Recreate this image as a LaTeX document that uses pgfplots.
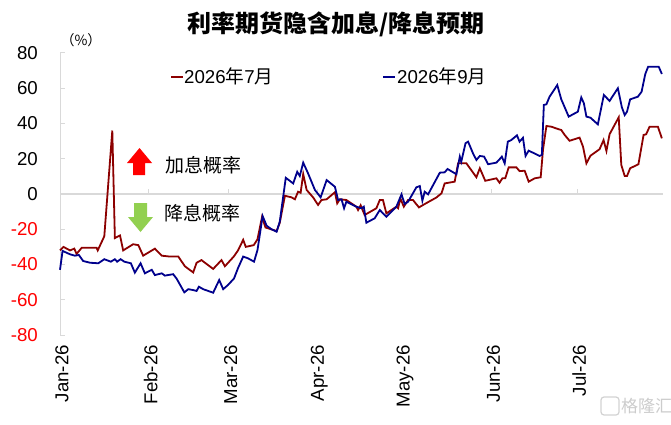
\documentclass[border=0pt]{standalone}
\usepackage{fontspec}
\setmainfont{Liberation Sans}
\newfontfamily\cjk{Noto Sans CJK SC}
\usepackage{pgfplots}
\pgfplotsset{compat=1.18}
\definecolor{sjul}{RGB}{140,0,0}
\definecolor{ssep}{RGB}{0,0,140}
\definecolor{axgray}{RGB}{217,217,217}
\definecolor{arrgreen}{RGB}{146,208,80}
\newcommand{\fs}{\fontsize{18.67bp}{22bp}\selectfont}
\begin{document}
\begin{tikzpicture}[x=1bp,y=1bp]
\useasboundingbox (0,0) rectangle (671,424);
\begin{axis}[at={(60bp,89bp)}, anchor=south west, width=603bp, height=282bp, scale only axis,
  xmin=0, xmax=211, ymin=-80, ymax=80, axis lines*=left,
  x axis line style={draw=none}, y axis line style={draw=axgray, line width=1bp},
  xtick={0,31,59,90,120,151,181},
  xticklabels={Jan-26,Feb-26,Mar-26,Apr-26,May-26,Jun-26,Jul-26},
  xtick style={draw=none},
  ytick={-80,-60,-40,-20,0,20,40,60,80},
  yticklabels={\textcolor{red}{-80},\textcolor{red}{-60},\textcolor{red}{-40},\textcolor{red}{-20},0,20,40,60,80},
  ytick style={draw=axgray, line width=1bp}, tick align=inside, major tick length=5bp,
  tick label style={font=\fs},
  yticklabel style={anchor=east, inner sep=0pt, xshift=-22bp},
  xticklabel style={yshift=-10bp, xshift=2bp, rotate=90, anchor=east, inner sep=0pt},
  clip=false]
\draw[axgray, line width=1.5bp] (axis cs:0,0) -- (axis cs:211,0);
\pgfplotsinvokeforeach{31,59,90,120,151,181}{\draw[axgray, line width=1bp] (axis cs:#1,0) -- ++(0bp,5bp);}
\addplot[sjul, line width=1.8bp] coordinates {
(0,-32) (1.2,-30) (3.5,-32) (5,-31) (5.8,-34) (7.6,-30.5) (12.8,-30.5) (13.2,-32) (15.5,-24) (18.3,36)
(19.2,-25) (20.4,-24) (21,-23.5) (22.1,-32) (25.6,-28.5) (27.4,-29) (29.1,-35) (33.2,-31) (35.6,-35) (38.5,-35.5)
(41.4,-35.5) (43.7,-41) (46.6,-44.5) (47.8,-39) (49.5,-37.5) (53.6,-42.5) (56.5,-37.5) (57.7,-41) (60.8,-35.5) (62.3,-32)
(64.1,-26) (65,-30) (67.8,-29) (69.1,-25.7) (70.7,-13) (71.9,-19) (75.8,-21) (76.9,-16.3) (78.7,-1) (81,-1.9)
(82.2,-3) (83.3,1.3) (84.2,0.7) (85.1,11.3) (86.3,2.3) (88.6,-2) (90.3,-6.2) (91.5,-3.4) (93.3,-3) (96.2,1)
(97,-5.3) (97.9,-3) (100.2,-3.4) (103.7,-7.2) (104.3,-9.1) (105.2,-6.4) (106.6,-11.9) (110.7,-8.1) (111.9,-3.4) (113,-3.4)
(114.2,-11) (117.7,-7.2) (118.3,-8.1) (119.1,-2.5) (120.3,-7.2) (121.8,-3.4) (123.5,-3.4) (125.6,-7.6) (127.6,-5.7) (131.7,-2)
(133.5,0.4) (134.6,6) (138.1,7) (139.3,17.4) (142.2,17.4) (145.7,9.5) (146.9,14.6) (148.8,7.5) (152.7,8.9) (153.8,6.4)
(154.8,8.9) (155.8,8.9) (157,15.1) (159.7,15.1) (160.8,13) (162.6,13.2) (164,7) (166.1,8.9) (168.2,9.5) (169,25)
(170.2,38.6) (171.9,38.2) (174.2,36.9) (175.4,36.3) (176.6,33.5) (178.3,30.2) (181.8,32) (183,26.9) (184.2,17.4) (185.6,21.7)
(188.8,25.4) (190.2,30.6) (191.2,24.4) (192.3,33.9) (195.5,43.5) (196.4,16.5) (197.6,10.2) (198.4,10.2) (199.5,14.6) (202.4,16.9)
(204.2,33.5) (205.1,33.9) (206.3,38.2) (209.2,38.2) (210.6,31.6)
};
\addplot[ssep, line width=1.8bp] coordinates {
(0,-43) (0.9,-32.3) (3.5,-34.2) (5.2,-35) (6.6,-34.6) (8.1,-38) (10.5,-39) (13.4,-39.3) (15.5,-37) (17.8,-38.4)
(19.2,-37) (20,-38.4) (21.2,-37) (22.5,-38.4) (24.8,-39.3) (26.2,-44.6) (28.2,-39.3) (29.7,-45) (32.1,-43) (33.2,-46)
(35.6,-45) (36.7,-46.3) (39.6,-45.5) (40.8,-48) (43.5,-55.8) (44.9,-54) (46.6,-54.5) (47.8,-55) (48.6,-52.6) (50.1,-54)
(53.6,-56) (55.7,-48.8) (57.1,-54) (58.8,-51.6) (60.9,-47.9) (62.3,-42) (64.1,-35.5) (65.8,-36.5) (67.9,-38.4) (69.1,-31.8)
(70.9,-12.5) (72.3,-18) (74,-20) (75.8,-21.4) (76.9,-15.7) (79,9.2) (81.6,6) (83,12.6) (83.9,10.2) (85.1,17.8)
(86.8,11.7) (89.2,2.3) (91.2,-1.9) (93.3,7.9) (96.2,4.1) (97.3,-3.4) (98.5,-3) (99.4,-8.1) (100.2,-4.4) (103.7,-7.2)
(105.5,-8.1) (106.3,-7.2) (107.2,-16.3) (110.1,-13.8) (111.9,-9.1) (114.2,-12.9) (117.7,-7.2) (119.5,-0.2) (120.6,-5.7) (121.8,-4.4)
(124.7,3.8) (125.9,4.5) (126.8,-3.8) (127.6,1.3) (128.8,-0.2) (132.9,12.1) (134.6,12.3) (135.6,14.2) (138.7,11.2) (139.9,21.2)
(140.4,18.3) (141.9,28.8) (142.8,29.7) (144.5,23.1) (145.7,19.3) (146.9,21.6) (148.4,21.2) (149.8,16.9) (152.7,17.8) (153.8,19.7)
(154.6,21.2) (155.6,17.4) (156.7,29.7) (157.9,30.6) (159.9,33.3) (160.8,29.7) (162,31.9) (162.9,21.6) (164,24.6) (167.8,21.6)
(168.6,22.1) (169.3,50.5) (170.2,50.9) (171.3,55.2) (174,61.8) (175.4,53.7) (178,43.9) (181.2,46.7) (182.4,54.8) (183.3,51.5)
(184.2,43.9) (185.6,43.3) (188.2,39.5) (190.3,56.2) (192.3,52.8) (195.2,60) (196.6,49.2) (197.6,44.8) (198.4,46.7) (199.5,53.7)
(202.2,55.2) (203.5,58) (204.8,68.1) (205.8,72.2) (209.5,72.2) (210.6,68.1)
};
\end{axis}
% title and unit
\node[font=\cjk\bfseries\fontsize{24bp}{26bp}\selectfont] at (336,400) {利率期货隐含加息/降息预期};
\node[font=\cjk\fontsize{14bp}{16bp}\selectfont] at (81,384) {（\%）};
% legend
\draw[sjul, line width=1.8bp] (171,347) -- (183,347);
\node[anchor=west, inner sep=0pt, font=\fs] at (184,348) {2026{\cjk 年}7{\cjk 月}};
\draw[ssep, line width=1.8bp] (383,347) -- (395,347);
\node[anchor=west, inner sep=0pt, font=\fs] at (397,348) {2026{\cjk 年}9{\cjk 月}};
% arrows and notes
\fill[red] (139.5,276) -- (152,261) -- (145,261) -- (145,249) -- (133,249) -- (133,261) -- (127,261) -- cycle;
\node[anchor=west, inner sep=0pt, font=\cjk\fontsize{19bp}{21bp}\selectfont] at (165,259) {加息概率};
\fill[arrgreen] (134,221) -- (147,221) -- (147,207) -- (153,207) -- (140.5,192) -- (128,207) -- (134,207) -- cycle;
\node[anchor=west, inner sep=0pt, font=\cjk\fontsize{19bp}{21bp}\selectfont] at (164,210.5) {降息概率};
% watermark
\draw[gray!35, line width=1.2bp, rounded corners=3bp] (601,9) rectangle (619,27);
\node[anchor=west, inner sep=0pt, text=gray!40, font=\cjk\fontsize{17bp}{19bp}\selectfont] at (621,18) {格隆汇};
\end{tikzpicture}
\end{document}
